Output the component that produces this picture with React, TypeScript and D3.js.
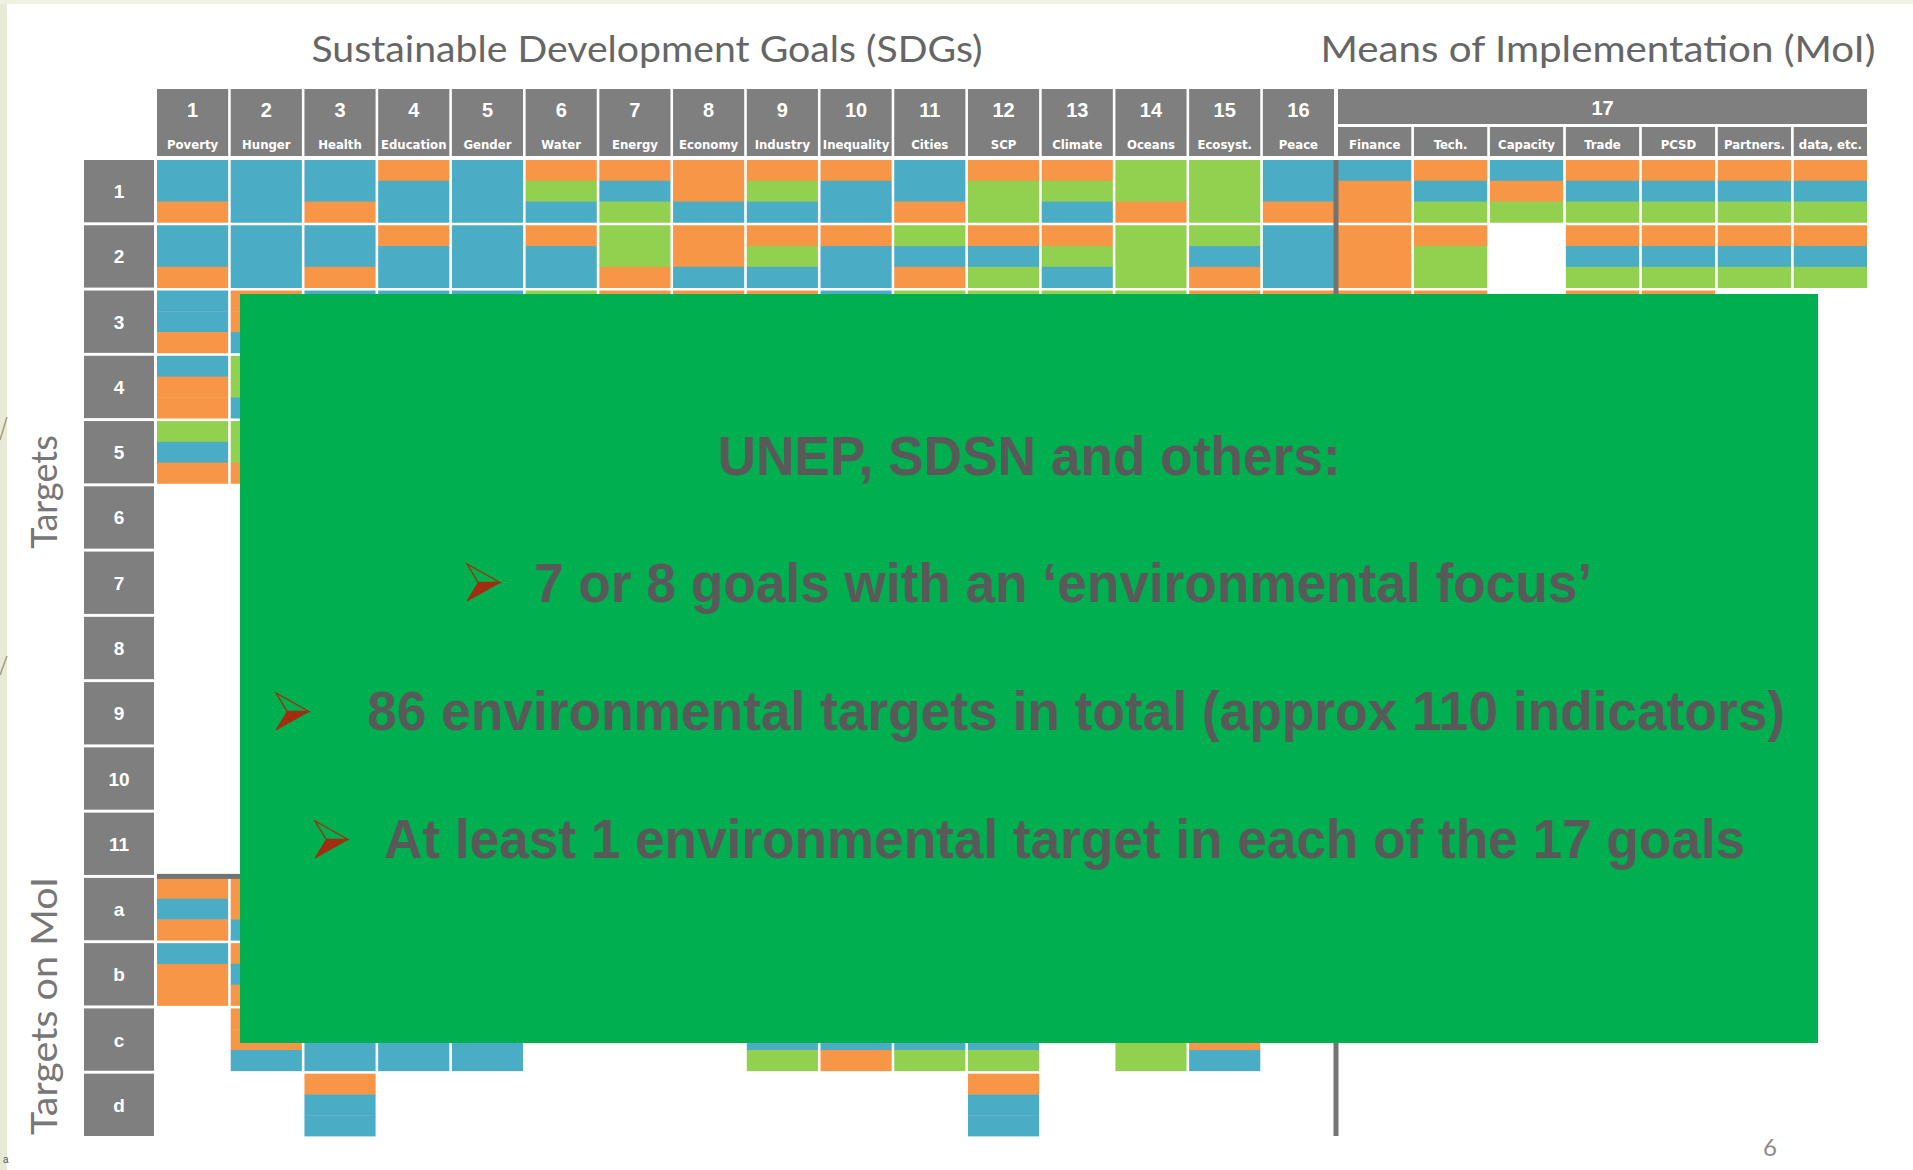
import { useEffect } from 'react';
import * as d3 from 'd3';

const SDG_NUMS = ['1', '2', '3', '4', '5', '6', '7', '8', '9', '10', '11', '12', '13', '14', '15', '16'];
const SDG_NAMES = ['Poverty', 'Hunger', 'Health', 'Education', 'Gender', 'Water', 'Energy', 'Economy',
  'Industry', 'Inequality', 'Cities', 'SCP', 'Climate', 'Oceans', 'Ecosyst.', 'Peace'];
const MOI_NAMES = ['Finance', 'Tech.', 'Capacity', 'Trade', 'PCSD', 'Partners.', 'data, etc.'];
const ROW_LABELS = ['1', '2', '3', '4', '5', '6', '7', '8', '9', '10', '11', 'a', 'b', 'c', 'd'];

// one array per goal, one entry per row (1..11, a..d); each letter is a third of the cell
// O = orange, B = blue, G = green, '' = no target
const SDG_CELLS: string[][] = [
  ['BBO', 'BBO', 'BBO', 'BOO', 'GBO', '', '', '', '', '', '', 'OBO', 'BOO', '', ''],
  ['BBB', 'BBB', 'OOB', 'GGB', 'GGO', '', '', '', '', '', '', 'OOB', 'OBO', 'OOB', ''],
  ['BBO', 'BBO', 'BGB', 'BOB', 'BBO', 'BOB', 'BBG', 'BBB', 'GBO', '', '', 'BBO', 'BOB', 'BBB', 'OBB'],
  ['OBB', 'OBB', 'BBB', 'OBB', 'OBB', 'BBB', 'OGB', '', '', '', '', 'OBB', 'BBB', 'BBB', ''],
  ['BBB', 'BBB', 'BBB', 'BBO', 'BBB', 'BBB', '', '', '', '', '', 'OBB', 'BBB', 'BBB', ''],
  ['OGB', 'OBB', 'GBB', 'OGB', 'GBB', 'GGB', '', '', '', '', '', 'OGB', 'BBG', '', ''],
  ['OBG', 'GGO', 'OGG', '', '', '', '', '', '', '', '', 'OBG', 'OGG', '', ''],
  ['OOB', 'OOB', 'OOB', 'GOB', 'OBO', 'OBB', 'OBB', 'OBO', 'OGB', 'OOB', '', 'OOB', 'OBB', '', ''],
  ['OGB', 'OGB', 'OBB', 'GOB', 'OBG', '', '', '', '', '', '', 'OBG', 'OBG', 'OBG', ''],
  ['OBB', 'OBB', 'BBO', 'OBB', 'OBB', 'BBB', 'BBO', '', '', '', '', 'OBB', 'OBB', 'BBO', ''],
  ['BBO', 'GBO', 'GBO', 'GBB', 'BGO', 'GBO', 'GBB', '', '', '', '', 'OBG', 'GBO', 'GBG', ''],
  ['OGG', 'OBG', 'GOG', 'GBG', 'GOG', 'OGB', 'OBG', 'GBG', '', '', '', 'OGB', 'OBG', 'OBG', 'OBB'],
  ['OGB', 'OGB', 'GBB', '', '', '', '', '', '', '', '', 'OGB', 'GBO', '', ''],
  ['GGO', 'GGG', 'GGG', 'GGG', 'GGG', 'GOG', 'OGG', '', '', '', '', 'GBG', 'GOG', 'GGG', ''],
  ['GGG', 'GBO', 'OGG', 'GGG', 'GGB', 'GBG', 'GGO', 'GGG', 'GBG', '', '', 'OGG', 'OGG', 'OOB', ''],
  ['BBO', 'BBB', 'OBB', 'OBB', 'BBO', 'BBB', 'BBB', 'BBB', 'BBB', 'BGB', '', 'BBB', 'BBB', '', ''],
];

// goal 17, one array per sub-theme, rows 1.. (missing = no target)
const MOI_CELLS: string[][] = [
  ['BOO', 'OOO', 'OOO', 'OOO', 'OBO'],
  ['OBG', 'OGG', 'OBG'],
  ['BOG'],
  ['OBG', 'OBG', 'OBG'],
  ['OBG', 'OBG', 'OBG'],
  ['OBG', 'OBG'],
  ['OBG', 'OBG'],
];

const TITLE_LINE = 'UNEP, SDSN and others:';
const BULLETS = [
  '7 or 8 goals with an \u2018environmental focus\u2019',
  '86 environmental targets in total (approx 110 indicators)',
  'At least 1 environmental target in each of the 17 goals',
];

const COLORS: Record<string, string> = { O: '#F79646', B: '#4BACC6', G: '#92D050' };
const GREY = '#7f7f7f';

export default function App() {
  useEffect(() => {
    document.body.style.margin = '0';
  }, []);

  const W = 1913;
  const H = 1170;

  const sdgX = d3.scaleBand<string>().domain(SDG_NUMS).range([157, 1334]).paddingInner(0.035);
  const moiX = d3.scaleBand<string>().domain(MOI_NAMES).range([1338, 1867]).paddingInner(0.035);
  const rowY = d3.scaleBand<string>().domain(ROW_LABELS).range([160, 1136]).paddingInner(0.045);
  const stripe = d3.scaleBand<number>().domain([0, 1, 2]).range([0, rowY.bandwidth()]);

  const columns = [
    ...SDG_NUMS.map((n, i) => ({ key: 'g' + n, x: sdgX(n)!, w: sdgX.bandwidth(), cells: SDG_CELLS[i] })),
    ...MOI_NAMES.map((n, i) => ({ key: 'm' + i, x: moiX(n)!, w: moiX.bandwidth(), cells: MOI_CELLS[i] })),
  ];

  const labelFont = "'Liberation Sans Narrow', 'Arial Narrow', 'DejaVu Sans Condensed', sans-serif";
  const boldFont = "'Liberation Sans', Arial, sans-serif";
  const titleFont = "Lato, 'Open Sans', sans-serif";
  const boxFont = "'Liberation Sans Narrow', 'Arial Narrow', 'Liberation Sans', Arial, sans-serif";

  const arrow = (x0: number, y0: number, w: number, h: number) => {
    const notch = w * 0.34;
    const ym = y0 + h / 2;
    return (
      <g>
        <path d={`M${x0},${y0} L${x0 + w},${ym} L${x0 + notch},${ym} Z`} fill="none" stroke="#a32d10" strokeWidth={1.4} />
        <path d={`M${x0 + notch},${ym} L${x0 + w},${ym} L${x0},${y0 + h} Z`} fill="#a32d10" stroke="#a32d10" strokeWidth={1} />
      </g>
    );
  };

  const bulletLayout = [
    { ax: 467, ay: 564, tx: 534, len: 1058, base: 602 },
    { ax: 276, ay: 693, tx: 367, len: 1418, base: 730 },
    { ax: 315, ay: 821, tx: 384, len: 1361, base: 858 },
  ];

  const rowA = rowY('a')!;

  return (
    <svg width={W} height={H} style={{ display: 'block' }}>
      <rect width={W} height={H} fill="#ffffff" />
      <rect width={7} height={H} fill="#e7ebd5" />
      <rect width={W} height={4} fill="#eef0e2" />
      <line x1={0} y1={440} x2={7} y2={417} stroke="#a49c80" strokeWidth={1.5} />
      <line x1={0} y1={675} x2={7} y2={656} stroke="#a49c80" strokeWidth={1.5} />
      <text x={3} y={1163} fontSize={10} fontFamily={boldFont} fill="#555">a</text>

      <text x={647} y={62} textAnchor="middle" fontFamily={titleFont} fontSize={36} fill="#666"
        textLength={671} lengthAdjust="spacingAndGlyphs">
        Sustainable Development Goals (SDGs)
      </text>
      <text x={1598} y={62} textAnchor="middle" fontFamily={titleFont} fontSize={36} fill="#666"
        textLength={555} lengthAdjust="spacingAndGlyphs">
        Means of Implementation (MoI)
      </text>

      {/* header cells */}
      {SDG_NUMS.map((n, i) => (
        <g key={'h' + n}>
          <rect x={sdgX(n)} y={89} width={sdgX.bandwidth()} height={67} fill={GREY} />
          <text x={sdgX(n)! + sdgX.bandwidth() / 2} y={117} textAnchor="middle" fill="#fff"
            fontFamily={boldFont} fontWeight="bold" fontSize={20}>{n}</text>
          <text x={sdgX(n)! + sdgX.bandwidth() / 2} y={149} textAnchor="middle" fill="#fff"
            fontFamily={labelFont} fontWeight="bold" fontSize={13}>{SDG_NAMES[i]}</text>
        </g>
      ))}
      <rect x={1338} y={89} width={529} height={35} fill={GREY} />
      <text x={1338 + 529 / 2} y={115} textAnchor="middle" fill="#fff"
        fontFamily={boldFont} fontWeight="bold" fontSize={20}>17</text>
      {MOI_NAMES.map(n => (
        <g key={'hm' + n}>
          <rect x={moiX(n)} y={127} width={moiX.bandwidth()} height={29} fill={GREY} />
          <text x={moiX(n)! + moiX.bandwidth() / 2} y={149} textAnchor="middle" fill="#fff"
            fontFamily={labelFont} fontWeight="bold" fontSize={13}>{n}</text>
        </g>
      ))}

      {/* row labels */}
      {ROW_LABELS.map(r => (
        <g key={'r' + r}>
          <rect x={84} y={rowY(r)} width={70} height={rowY.bandwidth()} fill={GREY} />
          <text x={119} y={rowY(r)! + rowY.bandwidth() / 2 + 7} textAnchor="middle" fill="#fff"
            fontFamily={boldFont} fontWeight="bold" fontSize={19}>{r}</text>
        </g>
      ))}

      {/* cells */}
      {columns.map(col =>
        ROW_LABELS.map((r, ri) => {
          const code = col.cells[ri] || '';
          return code.split('').map((c, si) => (
            <rect key={`${col.key}-${r}-${si}`} x={col.x} y={rowY(r)! + stripe(si)!}
              width={col.w} height={stripe.bandwidth() + 0.4} fill={COLORS[c]} />
          ));
        })
      )}

      {/* separators between goals/MoI and targets/MoI targets */}
      <rect x={1333.5} y={160} width={5} height={976} fill="#737373" />
      <rect x={157} y={rowA - 4} width={1177} height={5} fill="#737373" />

      {/* overlay box */}
      <rect x={240} y={294} width={1578} height={749} fill="#00B050" />
      <text x={1029} y={475} textAnchor="middle" fontFamily={boxFont} fontWeight="bold" fontSize={56}
        fill="#595959" textLength={623} lengthAdjust="spacingAndGlyphs">{TITLE_LINE}</text>
      {BULLETS.map((b, i) => {
        const l = bulletLayout[i];
        return (
          <g key={'b' + i}>
            {arrow(l.ax, l.ay, 33, 37)}
            <text x={l.tx} y={l.base} fontFamily={boxFont} fontWeight="bold" fontSize={56}
              fill="#595959" textLength={l.len} lengthAdjust="spacingAndGlyphs">{b}</text>
          </g>
        );
      })}

      {/* axis titles */}
      <text transform="translate(57,492) rotate(-90)" textAnchor="middle" fontFamily={titleFont}
        fontSize={36} fill="#777">Targets</text>
      <text transform="translate(57,1006) rotate(-90)" textAnchor="middle" fontFamily={titleFont}
        fontSize={36} fill="#777" textLength={258} lengthAdjust="spacingAndGlyphs">Targets on MoI</text>

      <text x={1770} y={1156} textAnchor="middle" fontFamily={titleFont} fontSize={24} fill="#8c8c8c">6</text>
    </svg>
  );
}
